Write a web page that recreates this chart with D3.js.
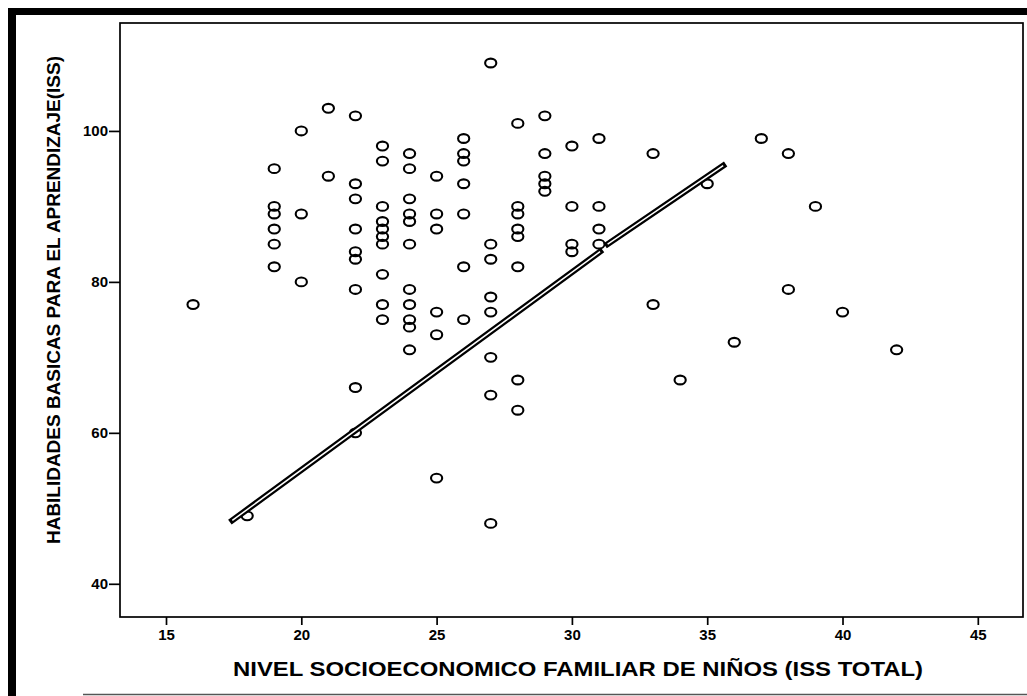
<!DOCTYPE html>
<html>
<head>
<meta charset="utf-8">
<script src="https://cdn.jsdelivr.net/npm/d3@7"></script>
<style>
  html, body { margin: 0; padding: 0; background: #fff; }
  text { font-family: "Liberation Sans", Arial, sans-serif; font-weight: bold; fill: #000; }
</style>
</head>
<body>
<script>
// ISS total values (x) and the HBA scores seen in each column (y)
const issCols = [16, 18, 19, 20, 21, 22, 23, 24, 25, 26, 27, 28, 29, 30, 31, 33, 34, 35, 36, 37, 38, 39, 40, 42];
const hbaByCol = [
    [77],
    [49],
    [95, 90, 89, 87, 85, 82],
    [100, 89, 80],
    [103, 94],
    [102, 93, 91, 87, 84, 83, 79, 66, 60],
    [98, 96, 90, 88, 87, 86, 85, 81, 77, 75],
    [97, 95, 91, 89, 88, 85, 79, 77, 75, 74, 71],
    [94, 89, 87, 76, 73, 54],
    [99, 97, 96, 93, 89, 82, 75],
    [109, 85, 83, 78, 76, 70, 65, 48],
    [101, 90, 89, 87, 86, 82, 67, 63],
    [102, 97, 94, 93, 92],
    [98, 90, 85, 84],
    [99, 90, 87, 85],
    [97, 77],
    [67],
    [93],
    [72],
    [99],
    [97, 79],
    [90],
    [76],
    [71]
];
// fit line as drawn (two pieces, small break near x = 31)
const fitLow = [[17.45, 48.4], [31.04, 84.0]];
const fitHigh = [[31.32, 85.0], [35.59, 95.4]];

const xTicks = [15, 20, 25, 30, 35, 40, 45];
const yTicks = [40, 60, 80, 100];
const xTitle = "NIVEL SOCIOECONOMICO FAMILIAR DE NIÑOS (ISS TOTAL)";
const yTitle = "HABILIDADES BASICAS PARA EL APRENDIZAJE(ISS)";

const points = [];
issCols.forEach((x, i) => hbaByCol[i].forEach(y => points.push({x: x, y: y})));

const W = 1027, H = 696;
const plot = {left: 120, right: 1023, top: 23, bottom: 617};

const svg = d3.select("body").append("svg")
    .attr("width", W)
    .attr("height", H);

// outer page frame
svg.append("rect").attr("x", 8).attr("y", 8).attr("width", W).attr("height", 7).attr("fill", "#000");
svg.append("rect").attr("x", 8).attr("y", 8).attr("width", 8).attr("height", H).attr("fill", "#000");
svg.append("line")
    .attr("x1", 83).attr("x2", W).attr("y1", 694.5).attr("y2", 694.5)
    .attr("stroke", "#555").attr("stroke-width", 1.5);

const xScale = d3.scaleLinear()
    .domain([13.3, 46.67])
    .range([plot.left, plot.right]);

const yScale = d3.scaleLinear()
    .domain([35.6, 114.3])
    .range([plot.bottom, plot.top]);

// axes
const xAxis = svg.append("g")
    .attr("transform", `translate(0,${plot.bottom})`)
    .call(d3.axisBottom(xScale).tickValues(xTicks).tickSize(8).tickPadding(4));
const yAxis = svg.append("g")
    .attr("transform", `translate(${plot.left},0)`)
    .call(d3.axisLeft(yScale).tickValues(yTicks).tickSize(11).tickPadding(1));

[xAxis, yAxis].forEach(g => {
    g.attr("font-size", 15).attr("font-family", null);
    g.select(".domain").remove();
    g.selectAll(".tick line").attr("stroke", "#000").attr("stroke-width", 1.7);
    g.selectAll(".tick text")
        .style("font-size", "15px")
        .style("font-weight", "bold")
        .attr("fill", "#000");
});

svg.append("rect")
    .attr("x", plot.left).attr("y", plot.top)
    .attr("width", plot.right - plot.left).attr("height", plot.bottom - plot.top)
    .attr("fill", "none").attr("stroke", "#000").attr("stroke-width", 1.7);

// points
svg.append("g").selectAll("ellipse")
    .data(points)
    .enter()
    .append("ellipse")
    .attr("cx", d => xScale(d.x))
    .attr("cy", d => yScale(d.y))
    .attr("rx", 5.6)
    .attr("ry", 4.4)
    .attr("fill", "none")
    .attr("stroke", "#000")
    .attr("stroke-width", 2.1);

// fit line: black outer stroke, white core
const line = d3.line().x(d => xScale(d[0])).y(d => yScale(d[1]));
[fitLow, fitHigh].forEach(seg => {
    svg.append("path").attr("d", line(seg))
        .attr("fill", "none").attr("stroke", "#000")
        .attr("stroke-width", 6).attr("stroke-linecap", "square");
    svg.append("path").attr("d", line(seg))
        .attr("fill", "none").attr("stroke", "#fff")
        .attr("stroke-width", 1.5);
});

// titles
svg.append("text")
    .attr("x", 578).attr("y", 676)
    .attr("text-anchor", "middle")
    .attr("textLength", 690)
    .attr("lengthAdjust", "spacingAndGlyphs")
    .style("font-size", "21px")
    .text(xTitle);

svg.append("text")
    .attr("transform", "translate(60,300) rotate(-90)")
    .attr("text-anchor", "middle")
    .attr("textLength", 488)
    .attr("lengthAdjust", "spacingAndGlyphs")
    .style("font-size", "19px")
    .text(yTitle);
</script>
</body>
</html>
